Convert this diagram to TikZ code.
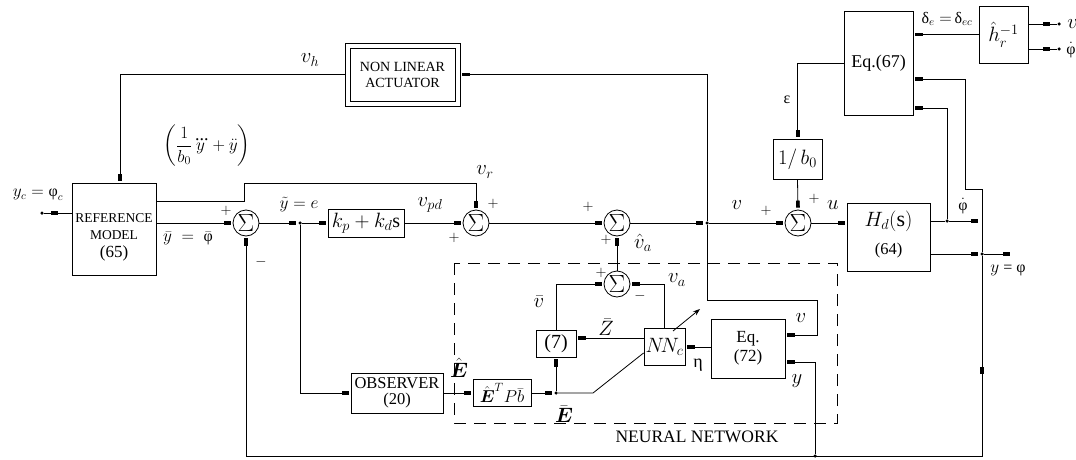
\documentclass[tikz,border=0pt]{standalone}
\usepackage{amsmath}
\usepackage{fontspec}
\setmainfont{Liberation Serif}
\usetikzlibrary{arrows.meta,decorations.markings}
\begin{document}
\begin{tikzpicture}[x=1pt,y=-1pt,
  line width=0.8pt,
  >={Rectangle[length=7pt,width=3.6pt]},
  blk/.style={draw, line width=0.9pt, inner sep=0pt, align=center},
  sum/.style={draw, circle, minimum size=26pt, inner sep=0pt, font=\fontsize{23}{23}\selectfont},
  sig/.style={->, shorten >=2pt},
  midsig/.style={decoration={markings, mark=at position 0.5 with {\arrow{>}}}, postaction=decorate},
  markat/.style={decoration={markings, mark=at position #1 with {\arrow{>}}}, postaction=decorate},
  jdot/.style={circle, fill, inner sep=0pt, minimum size=3.5pt},
  lbl/.style={inner sep=0pt, font=\fontsize{20}{20}\selectfont},
  pm/.style={inner sep=0pt, font=\fontsize{14}{14}\selectfont},
  txt/.style={inner sep=0pt, align=center},
]
\useasboundingbox (0,0) rectangle (1076,460);

% ---------- blocks ----------
\node[blk, minimum width=84pt, minimum height=92pt] (ref) at (114,229) {};
\node[txt, font=\fontsize{13.5}{17}\selectfont] at (114,237) {REFERENCE\\MODEL\\[1pt]{\fontsize{17}{17}\selectfont(65)}};

\node[blk, minimum width=115pt, minimum height=63pt] (act) at (402.5,74.5) {};
\node[draw, line width=0.9pt, minimum width=105pt, minimum height=53pt, inner sep=0pt, align=center,
      font=\fontsize{14}{16}\selectfont] (acti) at (act) {NON LINEAR\\ACTUATOR};

\node[blk, minimum width=69pt, minimum height=104pt, font=\fontsize{18}{18}\selectfont] (eq67) at (878.5,63) {Eq.(67)};
\node[blk, minimum width=49pt, minimum height=57pt, font=\fontsize{21}{21}\selectfont] (hr) at (1003.5,34.5) {$\hat{h}_r^{-1}$};
\node[blk, minimum width=49pt, minimum height=40pt, font=\fontsize{20}{20}\selectfont] (b0) at (797.5,159) {$1/\,b_0$};
\node[blk, minimum width=83pt, minimum height=68pt] (hd) at (888.5,237) {};
\node[txt, font=\fontsize{22}{22}\selectfont] at (888.5,221) {$H_d(\mathrm{s})$};
\node[txt, font=\fontsize{16.5}{16.5}\selectfont] at (888.5,251) {(64)};
\node[blk, minimum width=76pt, minimum height=28pt, font=\fontsize{20}{20}\selectfont] (kp) at (366,223) {$k_p+k_d\mathrm{s}$};
\node[blk, minimum width=92pt, minimum height=40pt, font=\fontsize{16.5}{16}\selectfont] (obs) at (397,393) {OBSERVER\\(20)};
\node[blk, minimum width=58pt, minimum height=27pt, font=\fontsize{17}{17}\selectfont] (ept) at (502,393) {$\hat{\boldsymbol{E}}^{T}P\bar{b}$};
\node[blk, minimum width=40pt, minimum height=27pt, font=\fontsize{20}{20}\selectfont] (seven) at (556,343.5) {(7)};
\node[blk, minimum width=41pt, minimum height=37pt, font=\fontsize{20}{20}\selectfont] (nn) at (664.5,346.5) {$N\!N_c$};
\node[blk, minimum width=74pt, minimum height=59pt, font=\fontsize{17}{19}\selectfont] (eq72) at (748,348.5) {Eq.\\(72)};

% ---------- summing junctions ----------
\node[sum] (s1) at (246,223) {$\Sigma$};
\node[sum] (s2) at (476,223) {$\Sigma$};
\node[sum] (s3) at (617,223) {$\Sigma$};
\node[sum] (s4) at (798,223) {$\Sigma$};
\node[sum] (s5) at (617,284) {$\Sigma$};

% ---------- junction dots / free ends ----------
\node[jdot] (yc) at (42,213) {};
\node[jdot] (j1) at (707,223) {};
\node[jdot] (j2) at (300,223) {};
\node[jdot] (j3) at (947,221) {};
\node[jdot] (j4) at (982,254) {};
\node[jdot] (j5) at (815,456) {};
\node[jdot] (j6) at (556,393) {};
\node[jdot] (o1) at (1059,24) {};
\node[jdot] (o2) at (1059,49) {};
\coordinate (vh) at (120,74.5);
\coordinate (phid) at (980,221);
\coordinate (yout) at (1012,254);

% ---------- neural network frame ----------
\draw[line width=0.8pt, dash pattern=on 12pt off 8pt] (454,263) rectangle (837,423);
\node[txt, font=\fontsize{17.5}{17.5}\selectfont] at (697,437) {NEURAL NETWORK};

% ---------- connectors ----------
\draw[sig] (act.west) -- (vh) -- (vh |- ref.north);
\draw[sig] (j1) |- (act.east);
\draw[sig] (j1) -- (707,300) -| (817,335) -- (eq72.east |- 0,335);
\draw[midsig] (yc) -- (yc -| ref.west);
\draw[sig] (ref.east |- 0,201) -- (244,201) -- (244,183) -| (s2.north);
\draw[sig] (ref.east |- s1) -- (s1);
\draw[sig] (s1) -- (j2);
\draw[sig] (j2) -- (kp);
\draw[sig] (j2) |- (obs.west);
\draw[sig] (kp) -- (s2);
\draw[sig] (s2) -- (s3);
\draw[sig] (s3) -- (j1);
\draw[sig] (j1) -- (s4);
\draw[sig] (s4) -- (s4 -| hd.west);
\draw (hd.east |- j3) -- (j3);
\draw[sig] (j3) -- (phid);
\draw[sig] (j3) |- (eq67.east |- 0,108);
\draw[sig] (hd.east |- j4) -- (j4);
\draw[sig] (j4) -- (yout);
\draw[sig] (j4) -- (982,189) -- (965,189) -- (965,79) -- (eq67.east |- 0,79);
\draw[sig, markat=118pt] (j4) -- (982,456) -| (s1.south);
\draw[sig] (j5) |- (eq72.east |- 0,362);
\draw[sig] (eq67.west) -| (b0.north);
\draw[sig] (b0.south) -- (s4.north);
\draw[sig] (hr.west) -- (hr.west -| eq67.east);
\draw[midsig] (o1) -- (o1 -| hr.east);
\draw[midsig] (o2) -- (o2 -| hr.east);
\draw[sig] (obs.east) -- (ept.west);
\draw[sig] (ept.east) -- (j6);
\draw[sig] (j6) -- (seven.south);
\draw (j6) -- (593,393) -- (nn.west |- 0,353);
\draw[sig] (seven.north) |- (s5.west);
\draw[sig] (nn.north) |- (s5.east);
\draw[sig] (s5.north) -- (s3.south);
\draw[sig] (nn.west |- 0,338) -- (seven.east |- 0,338);
\draw[sig] (eq72.west |- 0,347) -- (nn.east |- 0,347);
\draw[-{Stealth[length=7pt,width=5pt]}] (673,331) -- (700,309);

% ---------- labels ----------
\node[lbl] at (310,60) {$v_h$};
\node[lbl, font=\fontsize{18}{18}\selectfont] at (207,146) {$\left(\dfrac{1}{b_0}\dddot{y}+\ddot{y}\right)$};
\node[lbl, font=\fontsize{16}{16}\selectfont] at (38,195) {$y_c=\mbox{φ}_c$};
\node[lbl, font=\fontsize{16}{16}\selectfont] at (188,238) {$\bar{y}\;=\;\bar{\mbox{φ}}$};
\node[pm] at (226,211) {$+$};
\node[pm] at (261,262) {$-$};
\node[lbl, font=\fontsize{18}{18}\selectfont] at (299,205) {$\tilde{y}=e$};
\node[lbl] at (430,205) {$v_{pd}$};
\node[lbl] at (485,172) {$v_r$};
\node[pm] at (493,204) {$+$};
\node[pm] at (454,238) {$+$};
\node[pm] at (588,207) {$+$};
\node[pm] at (606,240) {$+$};
\node[lbl] at (643,243) {$\hat{v}_a$};
\node[lbl] at (737,205) {$v$};
\node[pm] at (766,211) {$+$};
\node[pm] at (814,199) {$+$};
\node[lbl] at (833,205) {$u$};
\node[lbl, font=\fontsize{16}{16}\selectfont] at (963,206) {$\dot{\mbox{φ}}$};
\node[lbl, font=\fontsize{16}{16}\selectfont] at (1008,270) {$y$ = φ};
\node[lbl, font=\fontsize{16}{16}\selectfont] at (787,100) {ε};
\node[lbl, font=\fontsize{16}{16}\selectfont] at (947,19) {δ$_e=$\,δ$_{ec}$};
\node[lbl, anchor=west] at (1067,24) {$v$};
\node[lbl, font=\fontsize{16}{16}\selectfont, anchor=west] at (1066,50) {$\dot{\mbox{φ}}$};
\node[lbl] at (539,302) {$\bar{v}$};
\node[pm] at (601,273) {$+$};
\node[pm] at (640,296) {$-$};
\node[lbl] at (677,280) {$v_a$};
\node[lbl] at (606,327) {$\bar{Z}$};
\node[lbl] at (459,368) {$\hat{\boldsymbol{E}}$};
\node[lbl] at (564,414) {$\bar{\boldsymbol{E}}$};
\node[lbl, font=\fontsize{18}{18}\selectfont] at (698,365) {η};
\node[lbl] at (801,318) {$v$};
\node[lbl] at (797,381) {$y$};
\end{tikzpicture}
\end{document}
